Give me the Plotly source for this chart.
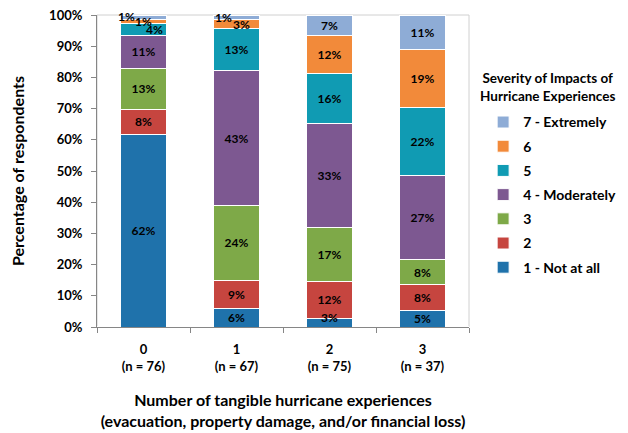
import math
import plotly.graph_objects as go

categories = ["0", "1", "2", "3"]
n_values = [76, 67, 75, 37]
tick_labels = [f"{c}<br>(n = {n})" for c, n in zip(categories, n_values)]

series_names = ["1 - Not at all", "2", "3", "4 - Moderately", "5", "6", "7 - Extremely"]
s1 = [61.8, 6.0, 2.7, 5.4]
s2 = [7.9, 9.0, 12.0, 8.1]
s3 = [13.2, 23.9, 17.3, 8.1]
s4 = [10.5, 43.3, 33.3, 27.0]
s5 = [3.9, 13.4, 16.0, 21.6]
s6 = [1.3, 3.0, 12.0, 18.9]
s7 = [1.3, 1.4, 6.7, 10.8]
series_values = [s1, s2, s3, s4, s5, s6, s7]

y_ticks = list(range(0, 101, 10))
y_tick_labels = [f"{v}%" for v in y_ticks]

colors = ["#1F72AB", "#C6453F", "#7EA948", "#7D5891", "#109BB3", "#F28A3A", "#8EACD6"]

FONT = "Lato"
small_label_limit = 5
# pixel offsets for small labels (Excel-style overlap resolution)
small_offsets = {
    (6, 0): (-17, 1), (5, 0): (0, 0), (4, 0): (11, 0),
    (6, 1): (-13, 0), (5, 1): (5, 0),
    (0, 2): (0, 5),
}


def pct(v):
    return f"{math.floor(v + 0.5)}%"


# page body has an 8px default margin, so the figure is sized to fit the window
W, H = 620, 425

fig = go.Figure()
n_series = len(series_names)
for i, (name, vals) in enumerate(zip(series_names, series_values)):
    texts = [pct(v) if v >= small_label_limit else "" for v in vals]
    fig.add_trace(go.Bar(
        x=categories, y=vals, name=name,
        marker=dict(color=colors[i], line=dict(color="white", width=1)),
        text=texts, texttemplate="%{text}", textposition="inside",
        insidetextanchor="middle",
        textfont=dict(family=FONT, size=12, color="black", weight="bold"),
        legendgroup=name, legendrank=n_series - i, hoverinfo="skip",
    ))

# labels for tiny segments
cum = [0.0] * len(categories)
for i, vals in enumerate(series_values):
    for j, v in enumerate(vals):
        if v < small_label_limit:
            dx, dy = small_offsets.get((i, j), (0, 0))
            fig.add_annotation(x=categories[j], y=cum[j] + v / 2, text=pct(v),
                               showarrow=False, xshift=dx, yshift=dy,
                               font=dict(family=FONT, size=12, color="black", weight="bold"))
        cum[j] += v

fig.add_shape(type="rect", xref="paper", yref="paper", x0=0, x1=1, y0=0, y1=1,
              line=dict(color="#D0D0D0", width=1), layer="below")

# legend title as a centred annotation
fig.add_annotation(xref="paper", yref="paper", x=1.211, y=0.769, xanchor="center", yanchor="middle",
                   text="Severity of Impacts of<br>Hurricane Experiences", showarrow=False,
                   font=dict(family=FONT, size=13.5, weight="bold", color="black"))

fig.update_layout(
    width=W, height=H,
    barmode="stack", bargap=0.5,
    plot_bgcolor="white", paper_bgcolor="white",
    margin=dict(l=89, r=159, t=7, b=106, autoexpand=False),
    font=dict(family=FONT, color="black", size=13, weight="bold"),
    uniformtext=dict(minsize=12, mode="show"),
    xaxis=dict(
        tickvals=categories, ticktext=tick_labels, automargin=False,
        tickson="boundaries", ticks="outside", ticklen=5, tickcolor="#868686",
        showline=True, linecolor="#868686", linewidth=1,
        tickfont=dict(family=FONT, size=13, weight="bold"),
        ticklabelstandoff=10, ticklabeloverflow="allow",
        title=dict(text="Number of tangible hurricane experiences<br>(evacuation, property damage, and/or financial loss)",
                   font=dict(family=FONT, size=16, weight="bold"), standoff=22),
    ),
    yaxis=dict(
        range=[0, 100], tickvals=y_ticks, ticktext=y_tick_labels, automargin=False,
        ticks="outside", ticklen=5, tickcolor="#868686",
        showline=True, linecolor="#868686", linewidth=1, showgrid=False,
        tickfont=dict(family=FONT, size=13, weight="bold"),
        ticklabelstandoff=6, ticklabeloverflow="allow",
        title=dict(text="Percentage of respondents",
                   font=dict(family=FONT, size=16, weight="bold"), standoff=21),
    ),
    legend=dict(
        xref="paper", yref="paper", x=1.038, y=0.707,
        xanchor="left", yanchor="top",
        traceorder="grouped", tracegroupgap=3,
        font=dict(family=FONT, size=14, weight="bold"),
        itemwidth=30,
    ),
    showlegend=True,
)

fig.write_html("out.html")
